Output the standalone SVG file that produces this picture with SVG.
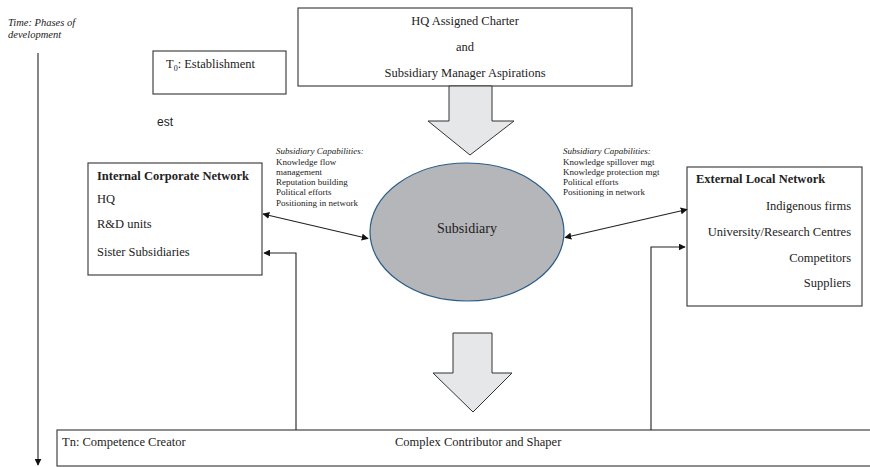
<svg xmlns="http://www.w3.org/2000/svg" width="870" height="467" viewBox="0 0 870 467">
<style>
.box{fill:#fff;stroke:#444;stroke-width:1.2}
.t{font-family:"Liberation Serif","Times New Roman",serif;fill:#222}
.n{font-size:12.5px}
.cap{font-size:9px}
.it{font-style:italic}
.b{font-weight:bold}
.blk{fill:#e6e7e8;stroke:#333;stroke-width:1}
.con{fill:none;stroke:#222;stroke-width:1.1}
</style>
<defs>
<marker id="ah" viewBox="0 0 10 10" refX="9" refY="5" markerWidth="7" markerHeight="7" markerUnits="userSpaceOnUse" orient="auto-start-reverse">
<path d="M0,0 L10,5 L0,10 z" fill="#111"/>
</marker>
</defs>

<g id="time-label">
<text class="t it" x="8" y="26" font-size="10.5">Time: Phases of</text>
<text class="t it" x="8" y="38" font-size="10.5">development</text>
</g>

<g id="t0">
<rect class="box" x="153" y="51" width="133" height="43"/>
<text class="t n" x="166" y="68">T<tspan font-size="8" dy="3">0</tspan><tspan dy="-3">: Establishment</tspan></text>
</g>

<text id="est" x="157" y="126" font-family="Liberation Sans, Arial, sans-serif" font-size="12" fill="#222">est</text>

<g id="charter">
<rect class="box" x="298" y="8" width="334" height="78"/>
<text class="t n" x="465" y="25" text-anchor="middle">HQ Assigned Charter</text>
<text class="t n" x="465" y="51" text-anchor="middle">and</text>
<text class="t n" x="465" y="77" text-anchor="middle">Subsidiary Manager Aspirations</text>
</g>

<g id="arrow-top">
<polygon class="blk" points="449,86 492,86 492,121 514,121 470,155 428,121 449,121"/>
</g>

<g id="subsidiary">
<ellipse cx="467" cy="232" rx="97" ry="69" fill="#b5b6b9" stroke="#2b5d87" stroke-width="1.2"/>
<text class="t" x="467" y="233" font-size="14" text-anchor="middle">Subsidiary</text>
</g>

<g id="internal">
<rect class="box" x="88" y="163" width="174" height="112"/>
<text class="t n b" x="97" y="180">Internal Corporate Network</text>
<text class="t n" x="97" y="203">HQ</text>
<text class="t n" x="97" y="228">R&amp;D units</text>
<text class="t n" x="97" y="256">Sister Subsidiaries</text>
</g>

<g id="cap-left">
<text class="t cap it" x="276" y="154">Subsidiary Capabilities:</text>
<text class="t cap" x="276" y="164.5">Knowledge flow</text>
<text class="t cap" x="276" y="175">management</text>
<text class="t cap" x="276" y="185">Reputation building</text>
<text class="t cap" x="276" y="195">Political efforts</text>
<text class="t cap" x="276" y="205.5">Positioning in network</text>
</g>

<g id="cap-right">
<text class="t cap it" x="563" y="154">Subsidiary Capabilities:</text>
<text class="t cap" x="563" y="164.5">Knowledge spillover mgt</text>
<text class="t cap" x="563" y="175">Knowledge protection mgt</text>
<text class="t cap" x="563" y="185">Political efforts</text>
<text class="t cap" x="563" y="195">Positioning in network</text>
</g>

<g id="external">
<rect class="box" x="687" y="167" width="175" height="139"/>
<text class="t n b" x="696" y="183">External Local Network</text>
<text class="t n" x="851" y="210" text-anchor="end">Indigenous firms</text>
<text class="t n" x="851" y="236" text-anchor="end">University/Research Centres</text>
<text class="t n" x="851" y="262" text-anchor="end">Competitors</text>
<text class="t n" x="851" y="287" text-anchor="end">Suppliers</text>
</g>

<g id="arrow-bottom">
<polygon class="blk" points="453,333 492,333 492,373 512,373 473,412 433,373 453,373"/>
</g>

<g id="tn">
<rect class="box" x="57" y="430" width="820" height="36"/>
<text class="t n" x="62" y="446">Tn: Competence Creator</text>
<text class="t n" x="395" y="446">Complex Contributor and Shaper</text>
</g>

<g id="connectors">
<line class="con" x1="38" y1="53" x2="38" y2="465" marker-end="url(#ah)"/>
<line class="con" x1="263" y1="214" x2="368" y2="238.5" marker-start="url(#ah)" marker-end="url(#ah)"/>
<line class="con" x1="565" y1="237.5" x2="687" y2="209.5" marker-start="url(#ah)" marker-end="url(#ah)"/>
<polyline class="con" points="296,430 296,253 264,253" marker-end="url(#ah)"/>
<polyline class="con" points="651,430 651,247 685,247" marker-end="url(#ah)"/>
</g>
</svg>
